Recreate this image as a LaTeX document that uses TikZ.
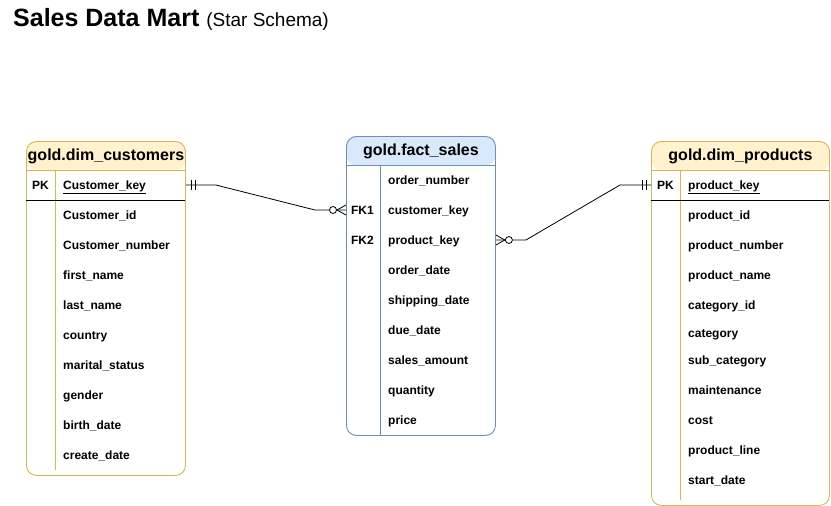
\documentclass[tikz,border=0pt]{standalone}
\usepackage{fontspec}
\setmainfont{Liberation Sans}
\definecolor{dimfill}{HTML}{FFF2CC}
\definecolor{dimline}{HTML}{D6B656}
\definecolor{factfill}{HTML}{DAE8FC}
\definecolor{factline}{HTML}{6C8EBF}

\tikzset{
  tbl/.style={draw=#1line, rounded corners=10pt, anchor=north west, inner sep=0pt,
    line width=0.9pt,
    path picture={
      \fill[#1fill] (path picture bounding box.north west)
        rectangle ([yshift=-29pt]path picture bounding box.north east);
      \draw[#1line, line width=0.9pt] ([yshift=-29pt]path picture bounding box.north west)
        -- ([yshift=-29pt]path picture bounding box.north east);}},
  hdr/.style={font=\fontsize{16}{19}\selectfont\bfseries, inner sep=0pt},
  fld/.style={font=\fontsize{12}{14}\selectfont\bfseries, anchor=west, inner sep=0pt,
    text height=10pt, text depth=2pt},
  keytag/.style={fld, anchor=center},
  rel/.style={draw=black, line width=0.8pt}
}

\begin{document}
\begin{tikzpicture}[x=1pt,y=-1pt]
  \useasboundingbox (0,0) rectangle (831,506);

  % titel
  \node[anchor=base west, inner sep=0pt] (title) at (13,27)
    {\fontsize{25}{30}\selectfont\bfseries Sales Data Mart
     \fontsize{19}{23}\selectfont\mdseries (Star Schema)};

  % dim_customers
  \node[tbl=dim, minimum width=159pt, minimum height=334pt] (cust) at (26,141) {};
  \node[hdr] (custhdr) at ([yshift=-15pt]cust.north) {gold.dim\_customers};
  \draw[dimline, line width=0.9pt] (55,170) -- (55,470);
  \draw[line width=0.9pt] (26,200) -- (185,200);
  \node[keytag] (custpk) at (40.5,185) {PK};
  \node[fld] (ckey) at (63,185) {\underline{Customer\_key}};
  \foreach \f [count=\i] in {Customer\_id, Customer\_number, first\_name, last\_name,
      country, marital\_status, gender, birth\_date, create\_date}
    \node[fld] (cf\i) at (63,185+30*\i) {\f};

  % fact_sales
  \node[tbl=fact, minimum width=149pt, minimum height=299pt] (fact) at (346,136) {};
  \node[hdr] (facthdr) at ([yshift=-15pt]fact.north) {gold.fact\_sales};
  \draw[factline, line width=0.9pt] (380,165) -- (380,435);
  \node[keytag] (factfk1) at (362.5,210) {FK1};
  \node[keytag] (factfk2) at (362.5,240) {FK2};
  \node[fld] (ford) at (388,180) {order\_number};
  \node[fld] (fk1) at (388,210) {customer\_key};
  \node[fld] (fk2) at (388,240) {product\_key};
  \foreach \f [count=\i] in {order\_date, shipping\_date, due\_date, sales\_amount,
      quantity, price}
    \node[fld] (ff\i) at (388,240+30*\i) {\f};

  % dim_products
  \node[tbl=dim, minimum width=178pt, minimum height=364pt] (prod) at (651,141) {};
  \node[hdr] (prodhdr) at ([yshift=-15pt]prod.north) {gold.dim\_products};
  \draw[dimline, line width=0.9pt] (680,170) -- (680,500);
  \draw[line width=0.9pt] (651,200) -- (829,200);
  \node[keytag] (prodpk) at (665.5,185) {PK};
  \node[fld] (pkey) at (688,185) {\underline{product\_key}};
  \foreach \y/\f [count=\i] in {215/product\_id, 245/product\_number,
      275/product\_name, 305/category\_id, 333/category, 360/sub\_category,
      390/maintenance, 420/cost, 450/product\_line, 480/start\_date}
    \node[fld] (pf\i) at (688,\y) {\f};

  % beziehungen
  \draw[rel] (cust.east |- ckey) coordinate (c1) -- ++(30,0)
    -- ([xshift=-31pt]fact.west |- fk1) -- (fact.west |- fk1) coordinate (c2);
  \draw[rel] ([xshift=5pt]c1) ++(0,-5) -- ++(0,10);
  \draw[rel] ([xshift=9pt]c1) ++(0,-5) -- ++(0,10);
  \draw[rel] ([xshift=-9pt]c2) -- ([yshift=5pt]c2)
    ([xshift=-9pt]c2) -- ([yshift=-5pt]c2);
  \draw[rel, fill=white] ([xshift=-13pt]c2) circle[radius=3.5pt];

  \draw[rel] (fact.east |- fk2) coordinate (c3) -- ++(30,0)
    -- ([xshift=-31pt]prod.west |- pkey) -- (prod.west |- pkey) coordinate (c4);
  \draw[rel] ([xshift=9pt]c3) -- ([yshift=5pt]c3)
    ([xshift=9pt]c3) -- ([yshift=-5pt]c3);
  \draw[rel, fill=white] ([xshift=13pt]c3) circle[radius=3.5pt];
  \draw[rel] ([xshift=-5pt]c4) ++(0,-5) -- ++(0,10);
  \draw[rel] ([xshift=-9pt]c4) ++(0,-5) -- ++(0,10);
\end{tikzpicture}
\end{document}
